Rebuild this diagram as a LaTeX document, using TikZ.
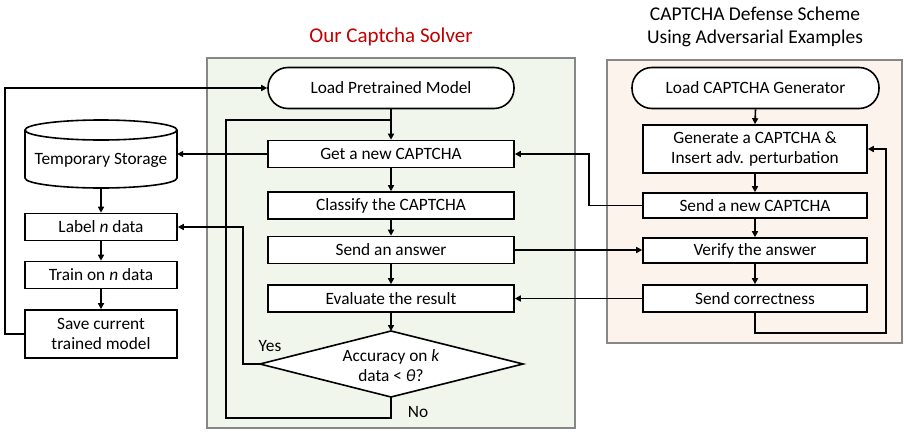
\documentclass[tikz,border=0pt]{standalone}
\usepackage{fontspec}
\setmainfont{Carlito}
\usetikzlibrary{arrows.meta,calc}
\definecolor{panelgray}{RGB}{135,135,135}
\definecolor{solverbg}{RGB}{241,246,237}
\definecolor{defensebg}{RGB}{252,243,236}
\definecolor{titlered}{RGB}{192,0,0}
\tikzset{
  body/.style={font=\fontsize{17.3}{20}\selectfont},
  box/.style={body, draw=black, fill=white, line width=1.6pt, align=center,
    minimum width=246pt, minimum height=27pt, inner sep=0pt},
  sidebox/.style={box, minimum width=152pt},
  rightbox/.style={box, minimum width=224pt},
  terminal/.style={box, rounded corners=20pt, minimum height=41pt},
  conn/.style={line width=1.6pt, draw=black},
  arr/.style={conn, -{Triangle[length=6pt,width=6pt]}},
  panel/.style={draw=panelgray, line width=1.6pt},
  heading/.style={align=center},
}
\begin{document}
\begin{tikzpicture}[x=1pt,y=-1pt]
\useasboundingbox (0,0) rectangle (904,431);

% panels
\draw[panel, fill=solverbg] (207,58) rectangle (575,428);
\draw[panel, fill=defensebg] (607,60) rectangle (902,343);

% headings
\node[heading, text=titlered, font=\fontsize{21}{25}\selectfont] (solvertitle) at (391,37) {Our Captcha Solver};
\node[heading, font=\fontsize{19.5}{23}\selectfont] (defensetitle) at (755,27) {CAPTCHA Defense Scheme\\Using Adversarial Examples};

% solver column
\node[terminal] (lpm) at (391,88) {Load Pretrained Model};
\node[box] (getnew) at (391,154) {Get a new CAPTCHA};
\node[box] (classify) at (391,205.5) {Classify the CAPTCHA};
\node[box] (answer) at (391,250) {Send an answer};
\node[box] (evaluate) at (391,298.5) {Evaluate the result};

% decision diamond
\coordinate (dN) at (391,331);
\coordinate (dS) at (391,397);
\coordinate (dW) at (260,364);
\coordinate (dE) at (523,364);
\draw[conn, fill=white, line join=miter] (dN) -- (dE) -- (dS) -- (dW) -- cycle;
\node[body, align=center] (acc) at (391,366) {Accuracy on \textit{k}\\data < \textit{θ}?};
\node[body] (yes) at (270,346) {Yes};
\node[body] (no) at (418,412) {No};

% left column: storage cylinder
\fill[white] (25,130) rectangle (177,178);
\fill[white] (101,178) ellipse (76 and 10);
\begin{scope}
  \clip (0,178) rectangle (200,200);
  \draw[conn] (101,178) ellipse (76 and 10);
\end{scope}
\draw[conn] (25,130) -- (25,178);
\draw[conn] (177,130) -- (177,178);
\draw[conn, fill=white] (101,130) ellipse (76 and 10);
\node[minimum width=152pt, minimum height=68pt, inner sep=0pt] (store) at (101,154) {};
\node[body] (storetext) at (101,160) {Temporary Storage};

\node[sidebox] (label) at (101,227) {Label \textit{n} data};
\node[sidebox] (train) at (101,275) {Train on \textit{n} data};
\node[sidebox, minimum height=48pt] (save) at (101,334) {Save current\\trained model};

% right column
\node[terminal, minimum width=247pt] (lcg) at (755.5,88) {Load CAPTCHA Generator};
\node[rightbox, minimum height=48pt] (gen) at (755,149) {Generate a CAPTCHA \&\\Insert adv. perturbation};
\node[rightbox, minimum height=25pt] (sendnew) at (755,205.5) {Send a new CAPTCHA};
\node[rightbox, minimum height=25pt] (verify) at (755,250.5) {Verify the answer};
\node[rightbox] (sendcorr) at (755,298.5) {Send correctness};

% solver flow
\draw[arr] (lpm.south) -- (getnew.north);
\draw[arr] (getnew.south) -- (classify.north);
\draw[arr] (classify.south) -- (answer.north);
\draw[arr] (answer.south) -- (evaluate.north);
\draw[arr] (evaluate.south) -- (dN);
\coordinate (merge) at ($(lpm.south)!0.355!(getnew.north)$);
\draw[conn] (dS) -- ++(0,21) -| ($(merge)+(-165,0)$) -- (merge);
\draw[arr] (dW) -- ++(-17,0) |- (label.east);

% storage and training loop
\draw[arr] (getnew.west) -- (getnew.west -| store.east);
\draw[arr] (101,188) -- (label.north);
\draw[arr] (label.south) -- (train.north);
\draw[arr] (train.south) -- (save.north);
\draw[arr] (save.west) -- ++(-19,0) |- (lpm.west);

% defense flow
\draw[arr] (lcg.south) -- (gen.north);
\draw[arr] (gen.south) -- (sendnew.north);
\draw[arr] (sendnew.south) -- (verify.north);
\draw[arr] (verify.south) -- (sendcorr.north);
\draw[arr] (sendcorr.south) -- ++(0,20) -| ($(gen.east)+(18,0)$) -- (gen.east);

% exchanges between solver and defense
\draw[arr] (sendnew.west) -- ++(-53,0) |- (getnew.east);
\draw[arr] (answer.east) -- (answer.east -| verify.west);
\draw[arr] (sendcorr.west) -- (evaluate.east);
\end{tikzpicture}
\end{document}
